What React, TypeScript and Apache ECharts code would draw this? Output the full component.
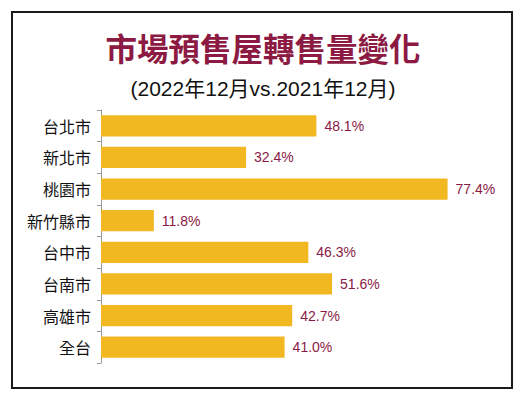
import React, { useEffect, useRef } from "react";
import * as echarts from "echarts";

const categories = ["台北市", "新北市", "桃園市", "新竹縣市", "台中市", "台南市", "高雄市", "全台"];
const values = [48.1, 32.4, 77.4, 11.8, 46.3, 51.6, 42.7, 41.0];
const titleText = "市場預售屋轉售量變化";
const subtitleText = "(2022年12月vs.2021年12月)";

export default function App() {
  const ref = useRef<HTMLDivElement>(null);
  useEffect(() => {
    document.body.style.margin = "0";
    const chart = echarts.init(ref.current!, undefined, { renderer: "svg" });
    chart.setOption({
      animation: false,
      backgroundColor: "#ffffff",
      graphic: [
        {
          type: "rect",
          shape: { x: 12, y: 12, width: 500, height: 376 },
          style: { fill: "none", stroke: "#1a1a1a", lineWidth: 2 },
          z: 10,
        },
      ],
      title: [
        {
          text: titleText,
          left: "center",
          top: 26,
          textStyle: {
            color: "#8c1a42",
            fontSize: 31.5,
            fontWeight: "bold",
            fontFamily: "Noto Sans CJK TC",
          },
        },
        {
          text: subtitleText,
          left: "center",
          top: 73,
          textStyle: {
            color: "#111",
            fontSize: 21,
            fontWeight: "normal",
            fontFamily: "Liberation Sans, Noto Sans CJK TC",
          },
        },
      ],
      grid: { left: 101, right: 22, top: 110, bottom: 35 },
      xAxis: {
        type: "value",
        min: 0,
        max: 90,
        show: false,
      },
      yAxis: {
        type: "category",
        data: categories,
        inverse: true,
        axisLine: { show: true, lineStyle: { color: "#999", width: 1 } },
        axisTick: { show: true, length: 4, lineStyle: { color: "#999" } },
        axisLabel: {
          color: "#111",
          fontSize: 16,
          margin: 10,
          fontFamily: "Noto Sans CJK TC",
        },
      },
      series: [
        {
          type: "bar",
          data: values,
          barCategoryGap: "33%",
          itemStyle: { color: "#f2b822" },
          label: {
            show: true,
            position: "right",
            distance: 8,
            color: "#8a1a45",
            fontSize: 14,
            fontFamily: "Liberation Sans",
            formatter: (p: any) => Number(p.value).toFixed(1) + "%",
          },
        },
      ],
    });
    return () => chart.dispose();
  }, []);
  return (
    <div
      ref={ref}
      style={{ position: "fixed", left: 0, top: 0, width: 526, height: 398 }}
    />
  );
}
